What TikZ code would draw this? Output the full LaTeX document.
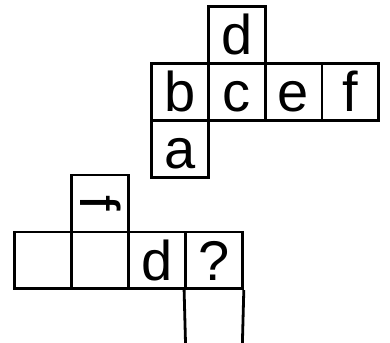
\documentclass[tikz,border=0pt]{standalone}
\usepackage{fontspec}
\setmainfont{Liberation Sans}
\begin{document}
\begin{tikzpicture}[x=1pt,y=-1pt,
  cell/.style={draw, line width=2.8pt, minimum size=56.9pt, inner sep=0pt,
    font=\fontsize{56}{62}\selectfont, text height=39.5pt, text depth=0pt},
  edge/.style={line width=2.8pt}]
\useasboundingbox (0,0) rectangle (390,342);
% top net
\node[cell] (td) at (236.75,35.25) {d};
\node[cell] (tb) at (179.95,92.15) {b};
\node[cell] (tc) at (236.75,92.15) {c};
\node[cell] (te) at (293.55,92.15) {e};
\node[cell] (tf) at (350.35,92.15) {f};
\node[cell] (ta) at (179.95,149.05) {a};
% bottom net
\node[cell, rotate=-90] (bf) at (100.15,203.45) {f};
\node[cell] (b1) at (43.25,260.35) {};
\node[cell] (b2) at (100.15,260.35) {};
\node[cell] (bd) at (157.05,260.35) {d};
\node[cell] (bq) at (213.95,260.35) {?};
\coordinate (l1) at (185.5,343);
\coordinate (l2) at (242.4,343);
\draw[edge] (bq.south west) -- (l1);
\draw[edge] (bq.south east) -- (l2);
\end{tikzpicture}
\end{document}
